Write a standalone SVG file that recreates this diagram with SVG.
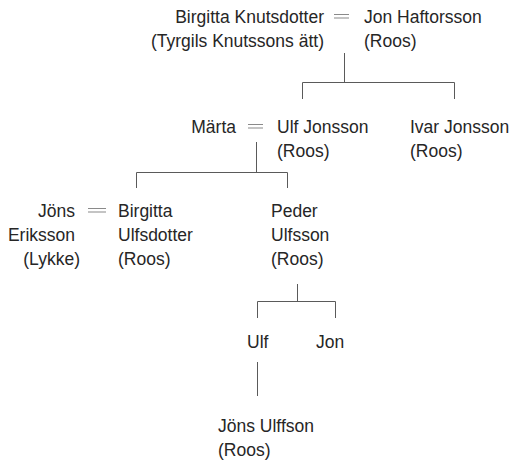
<svg xmlns="http://www.w3.org/2000/svg" width="510" height="461" viewBox="0 0 510 461">
<style>
text{font-family:"Liberation Sans",Arial,sans-serif;font-size:17.5px;fill:#262626}
.e{text-anchor:end}
.ln{stroke:#5a5a5a;stroke-width:1;fill:none}
.eq{stroke:#8a8a8a;stroke-width:1.2;fill:none}
</style>
<rect width="510" height="461" fill="#ffffff"/>
<g id="connectors">
<path class="eq" d="M334 14.5H349M334 18H349"/>
<path class="eq" d="M248 124.5H263M248 128H263"/>
<path class="eq" d="M88 208.5H106M88 212H106"/>
<path class="ln" d="M344.5 53V82.5M302.5 99V82.5H454.5V99"/>
<path class="ln" d="M256.5 142V172.5M136.5 188V172.5H287.5V188"/>
<path class="ln" d="M297.5 284V301.5M257.5 318V301.5H335.5V318"/>
<path class="ln" d="M257.5 362V396"/>
</g>
<g id="birgitta-knutsdotter"><text class="e" x="324" y="23">Birgitta Knutsdotter</text><text class="e" x="324" y="47">(Tyrgils Knutssons ätt)</text></g>
<g id="jon-haftorsson"><text x="364" y="23">Jon Haftorsson</text><text x="364" y="47">(Roos)</text></g>
<g id="marta"><text class="e" x="236" y="133">Märta</text></g>
<g id="ulf-jonsson"><text x="277" y="133">Ulf Jonsson</text><text x="277" y="157">(Roos)</text></g>
<g id="ivar-jonsson"><text x="410" y="133">Ivar Jonsson</text><text x="410" y="157">(Roos)</text></g>
<g id="jons-eriksson"><text class="e" x="75" y="217">Jöns</text><text class="e" x="75" y="241">Eriksson</text><text class="e" x="80" y="265">(Lykke)</text></g>
<g id="birgitta-ulfsdotter"><text x="118" y="217">Birgitta</text><text x="118" y="241">Ulfsdotter</text><text x="118" y="265">(Roos)</text></g>
<g id="peder-ulfsson"><text x="271" y="217">Peder</text><text x="271" y="241">Ulfsson</text><text x="271" y="265">(Roos)</text></g>
<g id="ulf"><text x="247" y="348">Ulf</text></g>
<g id="jon"><text x="316" y="348">Jon</text></g>
<g id="jons-ulffson"><text x="218" y="432">Jöns Ulffson</text><text x="218" y="456">(Roos)</text></g>
</svg>
